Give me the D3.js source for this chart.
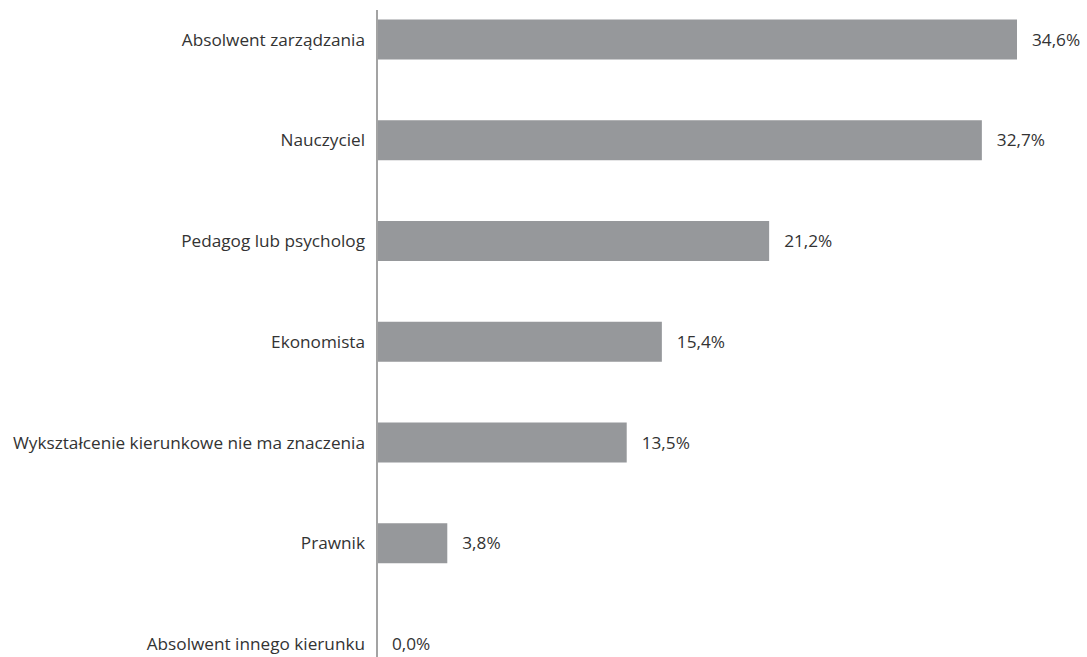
<!DOCTYPE html>
<html>
<head>
<meta charset="utf-8">
<script src="https://cdn.jsdelivr.net/npm/d3@7"></script>
<style>
  html, body { margin: 0; padding: 0; background: #ffffff; }
  svg { display: block; }
  text { font-family: "Open Sans", "DejaVu Sans", sans-serif; fill: #333333; }
</style>
</head>
<body>
<svg id="chart" width="1087" height="657"></svg>
<script>
// Preferred field of study for the role (share of answers, %)
const categories = [
  "Absolwent zarządzania",
  "Nauczyciel",
  "Pedagog lub psycholog",
  "Ekonomista",
  "Wykształcenie kierunkowe nie ma znaczenia",
  "Prawnik",
  "Absolwent innego kierunku"
];
const values = [34.6, 32.7, 21.2, 15.4, 13.5, 3.8, 0.0];
const valueLabels = ["34,6%", "32,7%", "21,2%", "15,4%", "13,5%", "3,8%", "0,0%"];

const svg = d3.select("#chart");
const axisX = 377;
const barH = 40;
const fontSize = 17.2;

const x = d3.scaleLinear().domain([0, 34.6]).range([axisX, 1017]);
const y = d3.scalePoint().domain(categories).range([39.5, 644]);

// bars
svg.append("g").selectAll("rect")
  .data(categories)
  .join("rect")
  .attr("x", axisX)
  .attr("y", d => y(d) - barH / 2)
  .attr("width", (d, i) => x(values[i]) - axisX)
  .attr("height", barH)
  .attr("fill", "#96989b");

// vertical category axis
svg.append("line")
  .attr("x1", axisX).attr("x2", axisX)
  .attr("y1", 10).attr("y2", 657)
  .attr("stroke", "#a3a3a3")
  .attr("stroke-width", 2);

// category labels
svg.append("g").selectAll("text")
  .data(categories)
  .join("text")
  .attr("x", axisX - 12)
  .attr("y", d => y(d))
  .attr("dy", "0.35em")
  .attr("text-anchor", "end")
  .attr("font-size", fontSize)
  .text(d => d);

// value labels
svg.append("g").selectAll("text")
  .data(categories)
  .join("text")
  .attr("x", (d, i) => x(values[i]) + 15)
  .attr("y", d => y(d))
  .attr("dy", "0.35em")
  .attr("font-size", fontSize)
  .text((d, i) => valueLabels[i]);
</script>
</body>
</html>
